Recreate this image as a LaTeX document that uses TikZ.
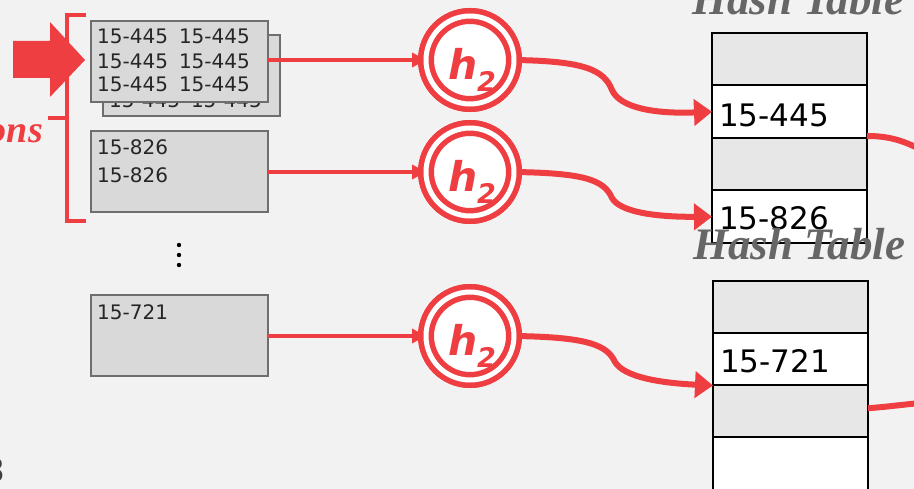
\documentclass[tikz,border=0pt]{standalone}
\usepackage{fontspec}
\setmainfont{DejaVu Sans}
\newfontfamily\titlefont{Liberation Serif}
\usetikzlibrary{arrows.meta,calc}
\definecolor{cmured}{RGB}{239,62,66}
\definecolor{bgc}{RGB}{242,242,242}
\definecolor{boxfill}{RGB}{217,217,217}
\definecolor{boxline}{RGB}{110,110,110}
\definecolor{rowgray}{RGB}{231,231,231}
\definecolor{titlegray}{RGB}{102,102,102}
\tikzset{
  pbox/.style={draw=boxline, fill=boxfill, line width=2pt, minimum width=177pt, minimum height=81pt, inner sep=0pt, outer sep=0pt, anchor=north west},
  btext/.style={font=\fontsize{20}{24}\selectfont, anchor=base west, inner sep=0pt, text=black!85},
  ttext/.style={font=\fontsize{31}{36}\selectfont, anchor=base west, inner sep=0pt, text=black},
  hrow/.style={draw=black, line width=2pt, minimum width=155pt, minimum height=52.5pt, inner sep=0pt, outer sep=0pt, anchor=north west},
  grayrow/.style={hrow, fill=rowgray},
  whiterow/.style={hrow, fill=white},
  hashfn/.style={circle, draw=cmured, double=white, double distance=5pt, line width=5.5pt, minimum size=88pt, inner sep=0pt, outer sep=0pt, fill=white},
  hlabel/.style={text=cmured, inner sep=0pt, font=\fontsize{41}{41}\selectfont\bfseries\itshape},
  feed/.style={draw=cmured, line width=4pt, -{Triangle[length=14pt,width=14pt]}},
  hcurve/.style={draw=cmured, line width=6pt, -{Triangle[length=18pt,width=26pt]}},
  hout/.style={draw=cmured, line width=6pt},
  titletext/.style={text=titlegray, anchor=base west, inner sep=0pt, font=\titlefont\fontsize{45}{50}\selectfont\bfseries\itshape},
}
\begin{document}
\begin{tikzpicture}[x=1pt,y=-1pt]
\useasboundingbox (0,0) rectangle (914,489);
\fill[bgc] (0,0) rectangle (914,489);

\coordinate (k1) at (612,90);
\coordinate (k2) at (612,198);
\coordinate (k3) at (615,362);

\node[hashfn] (c1) at (470,60) {};
\node[hashfn] (c2) at (470,172) {};
\node[hashfn] (c3) at (470,336) {};

% hash tables
\node[grayrow] (r11) at (712,33) {};
\node[whiterow] (r12) at (712,85.5) {};
\node[grayrow] (r13) at (712,138) {};
\node[whiterow] (r14) at (712,190.5) {};
\node[grayrow] (r21) at (713,281) {};
\node[whiterow] (r22) at (713,333) {};
\node[grayrow] (r23) at (713,385) {};
\node[whiterow] (r24) at (713,437) {};

% boxes
\node[pbox] (b0) at (103,35) {};
\node[btext] (b0t1) at (109,58) {15-445\hspace{11pt}15-445};
\node[btext] (b0t2) at (109,83) {15-445\hspace{11pt}15-445};
\node[btext] (b0t3) at (109,108) {15-445\hspace{11pt}15-445};
\node[pbox] (b1) at (91,21) {};
\node[btext] (b1t1) at (97,44) {15-445\hspace{11pt}15-445};
\node[btext] (b1t2) at (97,69) {15-445\hspace{11pt}15-445};
\node[btext] (b1t3) at (97,92) {15-445\hspace{11pt}15-445};
\node[pbox] (b2) at (91,131) {};
\node[btext] (b2t1) at (97,155) {15-826};
\node[btext] (b2t2) at (97,183) {15-826};
\node[pbox] (b3) at (91,295) {};
\node[btext] (b3t1) at (97,320) {15-721};

% feed arrows
\draw[feed] (b1.east |- c1.west) -- (c1.west);
\draw[feed] (b2.east |- c2.west) -- (c2.west);
\draw[feed] (b3.east |- c3.west) -- (c3.west);

% curves to hash tables
\draw[hcurve] (c1.east) .. controls (585,61) and (604,70) .. (k1) .. controls (620,108) and (655,114) .. (r12.west);
\draw[hcurve] (c2.east) .. controls (585,173) and (604,180) .. (k2) .. controls (620,212) and (655,217) .. (r14.west);
\draw[hcurve] (c3.east) .. controls (588,337) and (607,345) .. (k3) .. controls (624,377) and (660,383) .. (r22.south west);

% circles on top
\node[hashfn] (c1b) at (c1) {};
\node[hashfn] (c2b) at (c2) {};
\node[hashfn] (c3b) at (c3) {};
\node[hlabel] (h1) at ([xshift=2pt,yshift=-10pt]c1.center) {h\raisebox{-12pt}{\fontsize{27}{27}\selectfont 2}};
\node[hlabel] (h2) at ([xshift=2pt,yshift=-10pt]c2.center) {h\raisebox{-12pt}{\fontsize{27}{27}\selectfont 2}};
\node[hlabel] (h3) at ([xshift=2pt,yshift=-10pt]c3.center) {h\raisebox{-12pt}{\fontsize{27}{27}\selectfont 2}};

% table texts
\node[ttext] (t1) at (719,127) {15-445};
\node[ttext] (t2) at (719,230) {15-826};
\node[ttext] (t3) at (720,373) {15-721};

% outgoing lines
\draw[hout] ([yshift=2pt]r12.south east) .. controls (890,136) and (905,141) .. (925,152);
\draw[hout] ([yshift=3pt]r23.east) .. controls (885,407) and (900,405) .. (920,403);

% titles
\node[titletext] (ht1) at (692,15) {Hash Table};
\node[titletext] (ht2) at (693,260) {Hash Table};

% bracket and big arrow
\draw[cmured, line width=4pt] (86,15) -- (67,15) -- (67,221) -- (86,221);
\draw[cmured, line width=4pt] (67,118) -- (48,118);
\fill[cmured] (13,41) -- (50,41) -- (50,22) -- (85,60) -- (50,97) -- (50,78) -- (13,78) -- cycle;
\node[text=cmured, anchor=base east, inner sep=0pt, font=\titlefont\fontsize{38}{40}\selectfont\bfseries\itshape] (part) at (43,143) {ons};

% dots
\fill[black] (179,245) circle (2.2pt) (179,255) circle (2.2pt) (179,265) circle (2.2pt);

% slide number fragment
\node[text=black!75, anchor=base east, inner sep=0pt, font=\fontsize{33}{33}\selectfont\bfseries] (num) at (6,482) {3};
\end{tikzpicture}
\end{document}
